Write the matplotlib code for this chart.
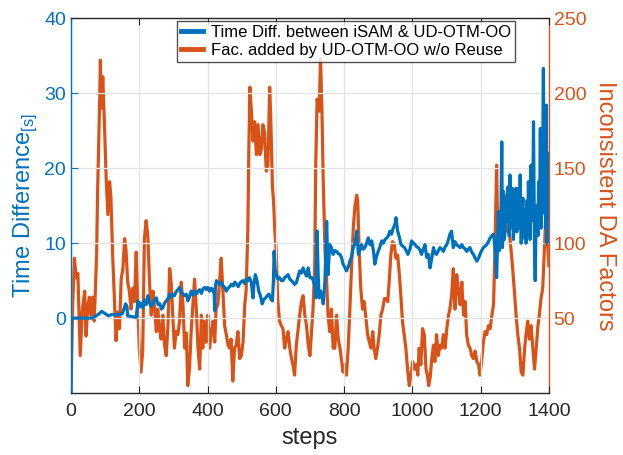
import numpy as np
import matplotlib
matplotlib.use("Agg")
import matplotlib.pyplot as plt

plt.rcParams['font.family'] = ['Liberation Sans', 'DejaVu Sans']
plt.rcParams['mathtext.fontset'] = 'custom'
plt.rcParams['mathtext.rm'] = 'Liberation Sans'

BLUE = "#0072BD"
ORANGE = "#D95319"

# time difference between iSAM and UD-OTM-OO [s] (left axis)
time_steps = [0, 1, 60, 70, 80, 90, 100, 110, 120, 130, 140, 150, 155, 160, 164, 166, 180, 191,
              196, 200, 205, 210, 215, 220, 225, 230, 235, 240, 245, 250, 255, 260, 265, 269,
              274, 279, 284, 289, 294, 298, 303, 308, 313, 318, 323, 328, 333, 338, 342, 347,
              352, 357, 362, 367, 372, 377, 382, 387, 392, 397, 401, 406, 411, 416, 419, 421,
              423, 426, 430, 435, 440, 445, 450, 455, 460, 465, 470, 475, 480, 485, 490, 495,
              500, 504, 509, 513, 518, 523, 528, 533, 536, 540, 545, 550, 555, 560, 565, 570,
              575, 580, 585, 590, 593, 595, 598, 601, 606, 611, 616, 621, 626, 631, 636, 641,
              646, 650, 655, 660, 665, 670, 675, 680, 685, 690, 695, 700, 705, 710, 715, 717,
              721, 724, 727, 731, 735, 739, 744, 749, 753, 758, 763, 768, 773, 778, 783, 788,
              793, 797, 802, 807, 812, 817, 822, 827, 832, 837, 842, 846, 851, 856, 861, 866,
              871, 876, 881, 886, 890, 895, 900, 905, 910, 915, 920, 925, 930, 934, 939, 944,
              949, 952, 957, 962, 967, 972, 977, 982, 987, 993, 998, 1003, 1008, 1013, 1018, 1023,
              1027, 1032, 1037, 1042, 1047, 1052, 1057, 1062, 1066, 1071, 1076, 1081, 1086, 1091,
              1096, 1101, 1106, 1110, 1115, 1120, 1125, 1130, 1135, 1140, 1145, 1150, 1155, 1159,
              1164, 1169, 1174, 1179, 1184, 1189, 1194, 1198, 1203, 1208, 1213, 1218, 1223, 1228,
              1233, 1238, 1242, 1247, 1250, 1252, 1255, 1257, 1260, 1262, 1264, 1267, 1270, 1272,
              1275, 1277, 1280, 1282, 1284, 1286, 1289, 1291, 1294, 1296, 1299, 1301, 1304, 1306,
              1309, 1311, 1314, 1316, 1319, 1321, 1324, 1326, 1329, 1331, 1333, 1335, 1338, 1340,
              1343, 1345, 1348, 1350, 1353, 1355, 1358, 1360, 1363, 1365, 1368, 1370, 1373, 1375,
              1377, 1379, 1382, 1384, 1386, 1388, 1390, 1391, 1393, 1394, 1396, 1397, 1399, 1400]
time_diff = [-10, 0, 0, 0.2, 0.5, 0.9, 0.6, 0.3, 0.5, 0.4, 0.5, 0.6, 1.2, 1.9, 1.5, 0.3, 0.2, 0.1,
             2.3, 1.5, 2.0, 1.4, 2.4, 1.8, 3.0, 2.0, 1.6, 1.9, 2.5, 2.7, 1.8, 1.9, 1.2, 1.4,
             2.0, 2.3, 2.6, 3.2, 2.8, 3.2, 3.0, 3.5, 3.8, 4.1, 3.4, 3.2, 3.0, 3.2, 2.3, 2.8,
             3.6, 3.1, 3.6, 3.2, 3.6, 3.8, 3.3, 3.9, 4.1, 3.8, 4.1, 3.6, 4.0, 3.6, 3.8, 1.0,
             4.2, 5.0, 4.6, 4.5, 4.8, 4.3, 4.1, 3.6, 4.0, 4.2, 4.5, 4.3, 4.8, 4.5, 4.2, 4.7,
             4.9, 5.0, 4.6, 5.2, 5.0, 5.4, 4.8, 2.7, 4.5, 5.8, 5.0, 3.6, 3.0, 1.9, 2.5, 2.7,
             3.0, 3.2, 2.6, 2.3, 5.0, 8.9, 6.5, 5.8, 5.2, 5.4, 5.0, 5.0, 5.4, 5.6, 5.8, 5.2,
             5.0, 4.8, 4.5, 4.7, 5.5, 6.3, 6.0, 6.7, 6.1, 5.6, 6.7, 5.4, 5.4, 5.0, 4.0, 2.7,
             11.6, 6.0, 2.7, 3.6, 3.0, 1.9, 5.0, 12.9, 5.8, 9.8, 9.4, 8.5, 9.0, 8.9, 8.6, 8.5,
             8.0, 7.2, 6.8, 6.3, 6.8, 7.6, 8.2, 9.4, 10.0, 11.6, 8.5, 9.0, 9.8, 9.2, 9.4, 10.0,
             10.7, 9.8, 10.3, 9.0, 7.2, 8.2, 8.9, 9.5, 10.3, 10.0, 10.5, 10.7, 11.0, 11.6, 11.2, 12.0,
             12.5, 13.4, 11.6, 10.8, 9.8, 9.6, 9.4, 9.0, 8.5, 9.2, 10.3, 10.0, 9.8, 9.5, 9.4, 9.0,
             8.5, 9.2, 9.8, 8.1, 8.5, 6.7, 8.0, 9.4, 8.7, 8.5, 9.0, 9.4, 9.2, 8.9,
             9.5, 9.8, 10.5, 11.2, 11.6, 9.4, 10.2, 9.8, 9.6, 9.4, 9.8, 9.4, 9.2, 8.9,
             9.2, 9.4, 8.8, 8.5, 8.0, 7.6, 8.0, 8.5, 9.0, 9.4, 9.6, 9.8, 10.2, 10.7,
             11.0, 11.2, 9.4, 5.4, 11.0, 14.2, 9.0, 11.2, 15.0, 23.5, 9.4, 16.9, 10.5, 12.9,
             16.0, 12.9, 17.5, 15.6, 11.0, 19.1, 12.0, 12.9, 17.3, 10.5, 15.0, 13.8, 17.3, 11.5,
             17.3, 15.6, 12.0, 19.1, 10.0, 13.8, 16.0, 10.7, 14.5, 13.8, 10.0, 15.6, 11.5, 18.2,
             12.9, 10.5, 20.4, 13.0, 16.5, 26.2, 9.0, 5.0, 15.0, 13.8, 11.0, 18.2, 14.0, 25.3,
             12.0, 16.0, 22.0, 33.3, 14.0, 27.1, 18.2, 12.0, 28.4, 10.0, 22.0, 13.8, 20.0, 18.2]

# inconsistent DA factors added by UD-OTM-OO w/o reuse (right axis)
fac_steps = [0, 5, 10, 15, 20, 27, 33, 40, 44, 49, 54, 58, 63, 68, 75, 78, 83, 86, 89, 93, 98,
             103, 108, 113, 117, 122, 127, 132, 137, 142, 147, 152, 157, 161, 166, 171, 176, 181,
             186, 191, 196, 200, 205, 210, 215, 220, 225, 230, 235, 240, 245, 250, 254, 259, 264,
             269, 274, 279, 284, 289, 294, 298, 303, 308, 313, 318, 323, 328, 333, 338, 342, 347,
             352, 357, 362, 367, 372, 377, 382, 386, 391, 396, 401, 406, 411, 416, 421, 425, 430,
             435, 440, 445, 450, 455, 460, 465, 469, 474, 479, 484, 489, 494, 499, 504, 509, 513,
             518, 521, 524, 528, 533, 538, 543, 548, 553, 558, 562, 567, 572, 577, 582, 585, 590,
             594, 597, 601, 606, 611, 616, 621, 626, 631, 636, 641, 646, 650, 655, 660, 670, 675,
             680, 685, 690, 695, 700, 704, 709, 714, 717, 721, 727, 731, 735, 739, 744, 749, 753,
             758, 763, 768, 773, 778, 783, 788, 793, 797, 802, 807, 812, 817, 822, 827, 832, 837,
             840, 844, 849, 854, 859, 864, 869, 874, 879, 884, 888, 893, 898, 903, 908, 913, 918,
             923, 928, 932, 937, 942, 947, 952, 957, 962, 967, 971, 976, 981, 986, 991, 996, 1001,
             1006, 1011, 1016, 1020, 1025, 1030, 1035, 1040, 1044, 1048, 1052, 1057, 1062, 1066,
             1071, 1076, 1081, 1086, 1091, 1096, 1101, 1106, 1110, 1115, 1120, 1125, 1130, 1135,
             1140, 1145, 1150, 1155, 1159, 1164, 1169, 1174, 1179, 1184, 1189, 1194, 1198, 1203,
             1208, 1213, 1218, 1223, 1228, 1233, 1238, 1242, 1247, 1250, 1255, 1259, 1265, 1270,
             1275, 1280, 1285, 1289, 1294, 1299, 1304, 1309, 1314, 1319, 1324, 1329, 1333, 1338,
             1343, 1348, 1353, 1358, 1363, 1368, 1372, 1377, 1382, 1387, 1391, 1396, 1400]
fac_added = [2, 60, 90, 77, 80, 25, 55, 68, 38, 58, 64, 52, 64, 48, 92, 136, 185, 222, 190, 211, 179,
             143, 119, 141, 130, 92, 63, 35, 54, 43, 76, 83, 103, 96, 74, 68, 56, 70,
             61, 94, 56, 30, 14, 28, 103, 115, 105, 74, 52, 68, 56, 41, 56, 43, 36,
             52, 32, 25, 45, 83, 72, 52, 30, 41, 39, 48, 74, 59, 30, 40, 5, 16,
             41, 59, 76, 56, 30, 16, 52, 30, 48, 34, 52, 30, 41, 48, 34, 56, 59,
             74, 90, 68, 45, 39, 32, 30, 36, 8, 30, 32, 41, 23, 25, 34, 59, 68,
             108, 163, 204, 190, 168, 181, 159, 179, 159, 163, 179, 174, 148, 152, 204, 185, 139,
             125, 108, 96, 61, 48, 45, 43, 30, 36, 41, 30, 23, 19, 12, 32, 52, 61,
             65, 52, 45, 32, 25, 39, 56, 85, 152, 196, 188, 223, 190, 141, 96, 74, 52,
             41, 56, 30, 30, 52, 36, 30, 21, 14, 19, 12, 30, 56, 85, 110, 125, 132,
             128, 96, 70, 56, 61, 50, 39, 34, 30, 41, 30, 23, 30, 39, 52, 56, 63,
             63, 61, 74, 92, 101, 99, 90, 92, 79, 63, 48, 39, 30, 16, 5, 12, 21,
             16, 19, 12, 30, 19, 43, 39, 16, 12, 5, 10, 23, 32, 21,
             39, 25, 32, 30, 39, 30, 43, 52, 56, 65, 83, 56, 79, 68,
             59, 74, 52, 61, 39, 32, 30, 25, 23, 28, 21, 19, 12, 21,
             34, 41, 39, 45, 43, 52, 59, 96, 152, 108, 96, 110, 101, 132,
             108, 110, 105, 96, 83, 68, 52, 39, 30, 14, 12, 30, 39, 48,
             36, 45, 30, 16, 30, 45, 52, 63, 70, 96, 119, 101, 85]

fig = plt.figure(figsize=(6.23, 4.55), dpi=100)
ax = fig.add_axes([0.114, 0.136, 0.767, 0.824])
ax2 = ax.twinx()
# blue line drawn above the orange one
ax.set_zorder(ax2.get_zorder() + 1)
ax.patch.set_visible(False)

h1, = ax.plot(time_steps, time_diff, color=BLUE, lw=2.3,
              label="Time Diff. between iSAM & UD-OTM-OO")
h2, = ax2.plot(fac_steps, fac_added, color=ORANGE, lw=2.3,
               label="Fac. added by UD-OTM-OO w/o Reuse")

ax.set_xlim(0, 1400)
ax.set_ylim(-10, 40)
ax2.set_ylim(0, 250)
ax.set_xticks([0, 200, 400, 600, 800, 1000, 1200, 1400])
ax.set_yticks([0, 10, 20, 30, 40])
ax2.set_yticks([50, 100, 150, 200, 250])

ax2.grid(False)
ax.grid(True, color="#e3e3e3", lw=0.9)
ax.set_axisbelow(True)

ax.tick_params(axis="x", direction="in", top=True, labelsize=14, colors="#262626", length=5, pad=7)
ax.tick_params(axis="y", direction="in", labelsize=14, colors=BLUE, length=5)
ax2.tick_params(axis="y", direction="in", labelsize=14, colors=ORANGE, length=5)
ax2.tick_params(axis="x", top=False, bottom=False)

for s in ("top", "bottom"):
    ax.spines[s].set_color("#262626")
    ax2.spines[s].set_visible(False)
ax.spines["left"].set_color(BLUE)
ax.spines["right"].set_visible(False)
ax2.spines["left"].set_visible(False)
ax2.spines["right"].set_color(ORANGE)
for sp in list(ax.spines.values()) + list(ax2.spines.values()):
    sp.set_linewidth(1.0)

ax.set_xlabel("steps", fontsize=17, color="#262626", labelpad=5)
ax.set_ylabel(r"Time Difference$_{\mathregular{[s]}}$", fontsize=17, color=BLUE, labelpad=4)
ax2.set_ylabel("Inconsistent DA Factors", fontsize=17, color=ORANGE, rotation=270, labelpad=21)

leg = ax.legend(handles=[h1, h2], loc="upper left", bbox_to_anchor=(177 / 623, 1 - 21 / 455),
                bbox_transform=fig.transFigure, fontsize=12, frameon=True, fancybox=False,
                handlelength=1.3, handletextpad=0.5, borderpad=0.25, labelspacing=0.15,
                borderaxespad=0)
leg.get_frame().set_edgecolor("#262626")
leg.get_frame().set_linewidth(1.0)
for line in leg.get_lines():
    line.set_linewidth(3.5)

fig.savefig("out.png", dpi=100)
